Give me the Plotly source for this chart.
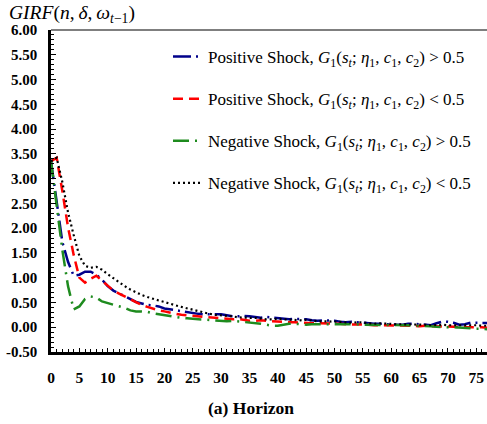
import plotly.graph_objects as go

# ---------------- data ----------------
horizon = list(range(0, 81))

pos_high = [3.35, 2.55, 1.72, 1.32, 1.04, 1.06, 1.12, 1.12, 1.06, 0.96,
            0.83, 0.74, 0.68, 0.62, 0.57, 0.51, 0.48, 0.45, 0.44, 0.42,
            0.38, 0.36, 0.34, 0.32, 0.30, 0.29, 0.27, 0.26, 0.26, 0.27,
            0.26, 0.24, 0.22, 0.22, 0.23, 0.22, 0.20, 0.19, 0.21, 0.20,
            0.19, 0.17, 0.16, 0.17, 0.17, 0.16, 0.14, 0.13, 0.14, 0.14,
            0.13, 0.11, 0.10, 0.11, 0.10, 0.09, 0.07, 0.07, 0.07, 0.06,
            0.06, 0.05, 0.05, 0.07, 0.07, 0.06, 0.04, 0.04, 0.08, 0.11,
            0.11, 0.09, 0.05, 0.06, 0.09, 0.09, 0.09, 0.09, 0.09, 0.08,
            0.08]

pos_low = [3.35, 3.42, 2.75, 2.02, 1.46, 1.00, 0.90, 0.98, 1.04, 0.94,
           0.83, 0.74, 0.68, 0.62, 0.56, 0.50, 0.45, 0.41, 0.37, 0.34,
           0.32, 0.29, 0.27, 0.25, 0.24, 0.23, 0.21, 0.20, 0.20, 0.19,
           0.18, 0.17, 0.16, 0.17, 0.15, 0.13, 0.13, 0.14, 0.13, 0.12,
           0.12, 0.11, 0.10, 0.10, 0.09, 0.09, 0.08, 0.08, 0.08, 0.07,
           0.08, 0.07, 0.06, 0.06, 0.05, 0.05, 0.05, 0.04, 0.04, 0.04,
           0.03, 0.03, 0.03, 0.04, 0.03, 0.02, 0.03, 0.02, 0.02, 0.01,
           0.01, 0.01, 0.00, 0.00, 0.01, 0.00, 0.00, -0.01, -0.01, -0.01,
           -0.01]

neg_high = [3.35, 2.40, 1.56, 0.83, 0.36, 0.42, 0.57, 0.62, 0.60, 0.52,
            0.49, 0.46, 0.42, 0.39, 0.34, 0.32, 0.32, 0.31, 0.28, 0.26,
            0.24, 0.22, 0.21, 0.19, 0.18, 0.17, 0.16, 0.15, 0.14, 0.13,
            0.12, 0.12, 0.13, 0.12, 0.11, 0.10, 0.09, 0.07, 0.05, 0.03,
            0.03, 0.05, 0.07, 0.07, 0.06, 0.05, 0.06, 0.06, 0.07, 0.07,
            0.07, 0.07, 0.07, 0.07, 0.06, 0.05, 0.05, 0.05, 0.05, 0.05,
            0.04, 0.04, 0.04, 0.04, 0.03, 0.03, 0.02, 0.02, 0.01, 0.00,
            0.00, 0.00, -0.01, -0.02, -0.02, -0.03, -0.03, -0.04, -0.03, -0.03,
            -0.03]

neg_low = [3.35, 3.42, 2.93, 2.32, 1.86, 1.44, 1.24, 1.20, 1.22, 1.16,
           1.07, 0.99, 0.90, 0.83, 0.76, 0.70, 0.65, 0.61, 0.57, 0.54,
           0.51, 0.47, 0.44, 0.41, 0.38, 0.35, 0.32, 0.29, 0.27, 0.25,
           0.24, 0.24, 0.22, 0.20, 0.19, 0.19, 0.19, 0.17, 0.16, 0.16,
           0.17, 0.16, 0.15, 0.14, 0.14, 0.15, 0.13, 0.12, 0.12, 0.12,
           0.12, 0.11, 0.10, 0.09, 0.10, 0.10, 0.08, 0.07, 0.08, 0.07,
           0.07, 0.06, 0.06, 0.06, 0.05, 0.05, 0.05, 0.04, 0.05, 0.05,
           0.04, 0.04, 0.05, 0.04, 0.04, 0.04, 0.03, 0.03, 0.03, 0.03,
           0.03]

series_names = [
    "Positive Shock, <i>G</i><sub>1</sub>(<i>s<sub>t</sub></i>; <i>η</i><sub>1</sub>, <i>c</i><sub>1</sub>, <i>c</i><sub>2</sub>) > 0.5",
    "Positive Shock, <i>G</i><sub>1</sub>(<i>s<sub>t</sub></i>; <i>η</i><sub>1</sub>, <i>c</i><sub>1</sub>, <i>c</i><sub>2</sub>) < 0.5",
    "Negative Shock, <i>G</i><sub>1</sub>(<i>s<sub>t</sub></i>; <i>η</i><sub>1</sub>, <i>c</i><sub>1</sub>, <i>c</i><sub>2</sub>) > 0.5",
    "Negative Shock, <i>G</i><sub>1</sub>(<i>s<sub>t</sub></i>; <i>η</i><sub>1</sub>, <i>c</i><sub>1</sub>, <i>c</i><sub>2</sub>) < 0.5",
]

x_tick_vals = list(range(0, 80, 5))
x_tick_text = [str(v) for v in x_tick_vals]
y_tick_vals = [-0.5, 0.0, 0.5, 1.0, 1.5, 2.0, 2.5, 3.0, 3.5, 4.0, 4.5, 5.0, 5.5, 6.0]
y_tick_text = ["-0.50", "0.00", "0.50", "1.00", "1.50", "2.00", "2.50", "3.00",
               "3.50", "4.00", "4.50", "5.00", "5.50", "6.00"]

# ---------------- figure ----------------
series = [pos_high, pos_low, neg_high, neg_low]
colors = ["#00008B", "#FF0000", "#1E8B1E", "#000000"]
dashes = ["18px,5px,2px,5px", "10px,6px", "16px,6px,2px,6px", "2px,3px"]
widths = [2.5, 2.5, 2.5, 2.2]

fig = go.Figure()
for i, (ys, name) in enumerate(zip(series, series_names)):
    fig.add_trace(go.Scatter(
        x=horizon, y=ys, mode="lines", name=name,
        legendgroup=f"g{i}",
        line=dict(color=colors[i], width=widths[i], dash=dashes[i]),
    ))

serif = "Liberation Serif, Times New Roman, serif"

fig.update_layout(
    width=487, height=424,
    margin=dict(l=51, r=0, t=30, b=72, autoexpand=False),
    plot_bgcolor="white", paper_bgcolor="white",
    showlegend=True,
    legend=dict(
        x=(168 - 51) / 436, y=1 - 9 / 322, xanchor="left", yanchor="top",
        font=dict(family=serif, size=17, color="black"),
        tracegroupgap=17, itemwidth=30, bgcolor="rgba(0,0,0,0)",
    ),
    title=dict(
        text="<i>GIRF</i>(<i>n</i>,\u2009<i>δ</i>,\u2009<i>ω</i><sub><i>t</i>−1</sub>)",
        x=9 / 487, xref="container", xanchor="left",
        y=1 - 12 / 424, yref="container", yanchor="middle",
        font=dict(family=serif, size=19.5, color="black"),
        automargin=False,
    ),
)

fig.update_xaxes(
    range=[0, 76.9], automargin=False,
    tickmode="array", tickvals=x_tick_vals, ticktext=x_tick_text,
    ticks="inside", ticklen=4, tickwidth=1, tickcolor="black",
    minor=dict(dtick=1, ticks="inside", ticklen=3, tickwidth=1, tickcolor="black"),
    showline=True, linewidth=3, linecolor="black",
    showgrid=False, zeroline=False,
    tickfont=dict(family=serif, size=15.5, color="black", weight="bold"),
    ticklabelstandoff=9,
)
fig.update_yaxes(
    range=[-0.5, 6.0], automargin=False,
    tickmode="array", tickvals=y_tick_vals, ticktext=y_tick_text,
    ticks="inside", ticklen=5, tickwidth=1, tickcolor="black",
    minor=dict(dtick=0.1, ticks="inside", ticklen=3, tickwidth=1, tickcolor="black"),
    showline=True, linewidth=2.5, linecolor="black",
    showgrid=False, zeroline=False,
    tickfont=dict(family=serif, size=15, color="black", weight="bold"),
    ticklabelstandoff=8,
)

# top frame line
fig.add_shape(type="line", xref="paper", yref="paper", x0=0, x1=1, y0=1, y1=1,
              line=dict(color="#555555", width=1.5))

# caption
fig.add_annotation(
    text="<b>(a) Horizon</b>", xref="paper", yref="paper",
    x=(251 - 51) / 436, y=-(408 - 352) / 322,
    xanchor="center", yanchor="middle", showarrow=False,
    font=dict(family=serif, size=17.5, color="black"),
)

fig.write_html(
    "out.html",
    config={"displayModeBar": False},
    post_script="document.body.style.margin='0';document.body.style.padding='0';",
)
